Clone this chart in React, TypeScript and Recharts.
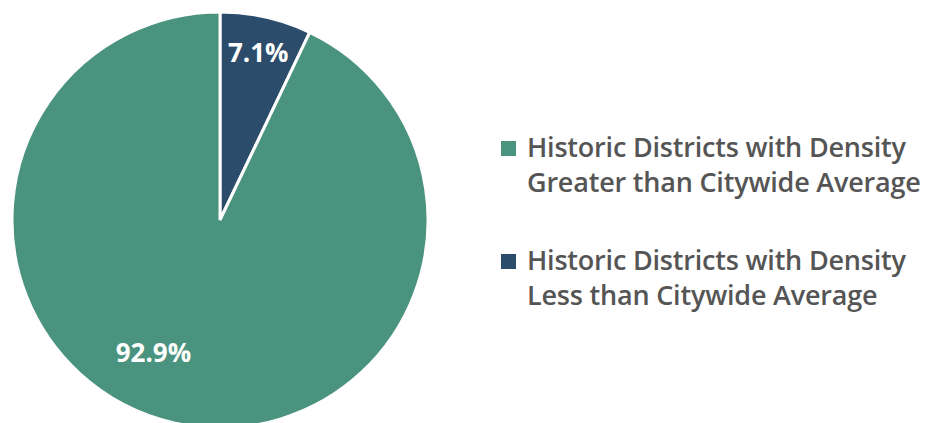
import { PieChart, Pie, Cell, Legend } from "recharts";

const categories = [
  "Historic Districts with Density Less than Citywide Average",
  "Historic Districts with Density Greater than Citywide Average",
];
const shares = [7.1, 92.9];
const colors = ["#2b4c6a", "#4a937e"];
const legendLines = [
  ["Historic Districts with Density", "Greater than Citywide Average"],
  ["Historic Districts with Density", "Less than Citywide Average"],
];
const legendColors = [colors[1], colors[0]];

const data = categories.map((name, i) => ({ name, value: shares[i] }));

const RADIAN = Math.PI / 180;

const renderLabel = (props: any) => {
  const { cx, cy, midAngle, outerRadius, index, value } = props;
  // small slice sits near the rim, large one is pulled a bit toward the lower left
  const r = index === 0 ? outerRadius * 0.83 : outerRadius * 0.71;
  const a = index === 0 ? midAngle : midAngle - 14;
  const x = cx + r * Math.cos(-a * RADIAN);
  const y = cy + r * Math.sin(-a * RADIAN);
  return (
    <text
      x={x}
      y={y}
      fill="#fff"
      textAnchor="middle"
      dominantBaseline="central"
      fontSize={26}
      fontWeight={700}
      fontFamily="'Open Sans', sans-serif"
    >
      {value}%
    </text>
  );
};

const LegendBox = () => (
  <div
    style={{
      fontFamily: "'Open Sans', sans-serif",
      fontWeight: 600,
      fontSize: 27,
      letterSpacing: -0.2,
      color: "#555",
      lineHeight: "35px",
      width: 432,
      overflow: "hidden",
    }}
  >
    {legendLines.map((lines, i) => (
      <div key={i} style={{ display: "flex", marginBottom: i === 0 ? 43 : 0 }}>
        <span
          style={{
            width: 15,
            height: 15,
            background: legendColors[i],
            marginTop: 12,
            marginRight: 11,
            flexShrink: 0,
          }}
        />
        <div style={{ whiteSpace: "nowrap" }}>
          {lines.map((l, j) => (
            <div key={j}>{l}</div>
          ))}
        </div>
      </div>
    ))}
  </div>
);

export default function App() {
  return (
    <div style={{ position: "absolute", left: 0, top: 0, width: 950, height: 423, background: "#fff" }}>
      <PieChart width={950} height={423} margin={{ top: 0, right: 0, bottom: 0, left: 0 }}>
        <Pie
          data={data}
          dataKey="value"
          nameKey="name"
          cx={220}
          cy={220}
          outerRadius={208}
          startAngle={90}
          endAngle={-270}
          stroke="#fff"
          strokeWidth={3}
          label={renderLabel}
          labelLine={false}
          isAnimationActive={false}
        >
          {data.map((d, i) => (
            <Cell key={d.name} fill={colors[i]} />
          ))}
        </Pie>
        <Legend
          content={<LegendBox />}
          wrapperStyle={{ position: "absolute", left: 501, top: 129, width: 432 }}
        />
      </PieChart>
    </div>
  );
}
